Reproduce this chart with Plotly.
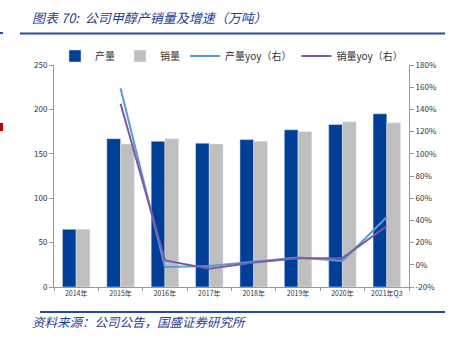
import plotly.graph_objects as go

categories = ["2014年", "2015年", "2016年", "2017年", "2018年", "2019年", "2020年", "2021年Q3"]
production = [65, 167, 164, 162, 166, 177, 183, 195]
sales = [65, 161, 167, 161, 164, 175, 186, 185]
prod_yoy = [None, 159, -2, -1, 2.5, 6.5, 3.5, 43]
sales_yoy = [None, 145, 4, -3.5, 2, 6, 6, 35]
left_ticks = [0, 50, 100, 150, 200, 250]
right_ticks = [-20, 0, 20, 40, 60, 80, 100, 120, 140, 160, 180]

FONT = "Noto Sans CJK SC"
BLUE_TXT = "#1f3f8f"

fig = go.Figure()
fig.add_trace(go.Bar(x=categories, y=production, name="产量", marker_color="#003f98"))
fig.add_trace(go.Bar(x=categories, y=sales, name="销量", marker_color="#bfbfbf"))
fig.add_trace(go.Scatter(x=categories, y=prod_yoy, name="产量yoy（右）", mode="lines",
                         line=dict(color="#5b9bd5", width=2), yaxis="y2"))
fig.add_trace(go.Scatter(x=categories, y=sales_yoy, name="销量yoy（右）", mode="lines",
                         line=dict(color="#7b5aa6", width=2), yaxis="y2"))

def px_x(px):
    return (px - 54) / 355

def px_y(py):
    return (287 - py) / 222

fig.update_layout(
    width=458, height=341,
    margin=dict(l=54, r=49, t=65, b=54),
    paper_bgcolor="white", plot_bgcolor="white",
    font=dict(family=FONT, size=8, color="#333333"),
    barmode="group", bargap=0.38, bargroupgap=0,
    showlegend=True,
    legend=dict(orientation="h", x=0.5, xanchor="center", y=px_y(56), yanchor="middle",
                font=dict(size=10, color="#333333"), itemwidth=30, tracegroupgap=0,
                traceorder="normal", bgcolor="rgba(0,0,0,0)"),
    xaxis=dict(showline=True, linecolor="#999999", linewidth=1, ticks="outside",
               ticklen=3, tickcolor="#999999", tickson="boundaries", tickangle=0,
               tickfont=dict(size=7, color="#333333"), showgrid=False),
    yaxis=dict(range=[0, 250], tickvals=left_ticks, showline=True, linecolor="#999999",
               ticks="outside", ticklen=4, tickcolor="#999999", showgrid=False,
               zeroline=False, tickfont=dict(size=8, color="#333333")),
    yaxis2=dict(range=[-20, 180], tickvals=right_ticks,
                ticktext=[f"{v}%" for v in right_ticks], overlaying="y", side="right",
                showline=True, linecolor="#999999", ticks="outside", ticklen=4,
                tickcolor="#999999", showgrid=False, zeroline=False,
                tickfont=dict(size=8, color="#333333")),
)

fig.add_annotation(text="<i>图表 70:  公司甲醇产销量及增速（万吨）</i>", xref="paper", yref="paper",
                   x=px_x(30), y=px_y(18), xanchor="left", yanchor="middle", showarrow=False,
                   font=dict(size=13, color=BLUE_TXT, family=FONT))
fig.add_annotation(text="<i>资料来源：公司公告，国盛证券研究所</i>", xref="paper", yref="paper",
                   x=px_x(30), y=px_y(321), xanchor="left", yanchor="middle", showarrow=False,
                   font=dict(size=12.5, color=BLUE_TXT, family=FONT))
fig.add_shape(type="line", xref="paper", yref="paper", x0=px_x(20), x1=px_x(445),
              y0=px_y(33.5), y1=px_y(33.5), line=dict(color="#1f4e9f", width=2))
fig.add_shape(type="line", xref="paper", yref="paper", x0=px_x(40), x1=px_x(445),
              y0=px_y(312), y1=px_y(312), line=dict(color="#1f4e9f", width=2))
fig.add_shape(type="rect", xref="paper", yref="paper", x0=px_x(0), x1=px_x(3),
              y0=px_y(32), y1=px_y(34), fillcolor="#1f4e9f", line=dict(width=0))
fig.add_shape(type="rect", xref="paper", yref="paper", x0=px_x(0), x1=px_x(3),
              y0=px_y(123), y1=px_y(131), fillcolor="#c00000", line=dict(width=0))

fig.write_html("out.html")
